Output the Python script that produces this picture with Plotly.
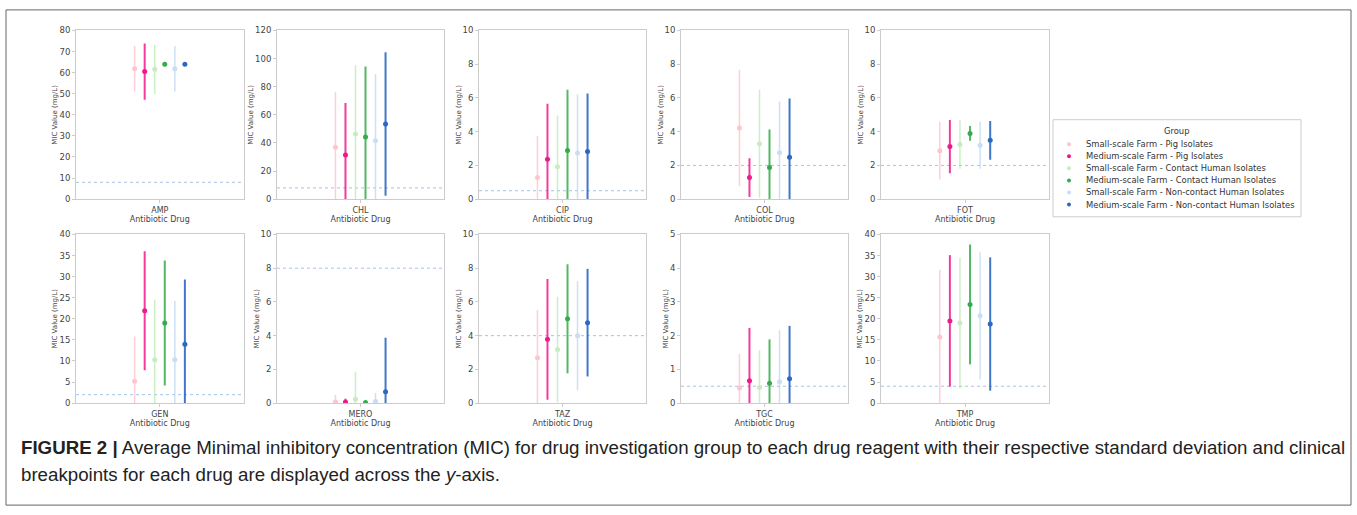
import plotly.graph_objects as go

W, H = 1357, 515

drugs = ["AMP", "CHL", "CIP", "COL", "FOT", "GEN", "MERO", "TAZ", "TGC", "TMP"]
breakpoints = [8, 8, 0.5, 2, 2, 2, 8, 4, 0.5, 4]
y_max = [80, 120, 10, 10, 10, 40, 10, 10, 5, 40]
y_step = [10, 20, 2, 2, 2, 5, 2, 2, 1, 5]

groups = [
    "Small-scale Farm - Pig Isolates",
    "Medium-scale Farm - Pig Isolates",
    "Small-scale Farm - Contact Human Isolates",
    "Medium-scale Farm - Contact Human Isolates",
    "Small-scale Farm - Non-contact Human Isolates",
    "Medium-scale Farm - Non-contact Human Isolates",
]

small_pig_mean = [61.9, 37.0, 1.28, 4.22, 2.87, 5.19, 0.06, 2.69, 0.45, 15.66]
small_pig_sd = [10.8, 39.5, 2.48, 3.45, 1.70, 10.6, 0.44, 2.83, 1.0, 15.96]
medium_pig_mean = [60.5, 31.4, 2.36, 1.28, 3.12, 21.9, 0.06, 3.78, 0.66, 19.5]
medium_pig_sd = [13.3, 37.0, 3.3, 1.15, 1.58, 14.1, 0.2, 3.58, 1.57, 15.6]
small_contact_mean = [61.6, 46.3, 1.92, 3.29, 3.24, 10.3, 0.23, 3.18, 0.46, 18.99]
small_contact_sd = [11.7, 49.0, 3.04, 3.2, 1.44, 14.3, 1.63, 3.13, 1.11, 15.5]
medium_contact_mean = [64.0, 44.2, 2.89, 1.88, 3.90, 19.0, 0.04, 5.0, 0.59, 23.4]
medium_contact_sd = [0.0, 50.2, 3.6, 2.25, 0.44, 14.85, 0.04, 3.23, 1.3, 14.2]
small_noncontact_mean = [61.9, 41.6, 2.73, 2.75, 3.20, 10.3, 0.1, 3.99, 0.63, 20.7]
small_noncontact_sd = [10.8, 47.5, 3.49, 3.04, 1.40, 14.0, 0.5, 3.24, 1.53, 15.1]
medium_noncontact_mean = [64.0, 53.5, 2.83, 2.48, 3.49, 13.95, 0.68, 4.77, 0.72, 18.76]
medium_noncontact_sd = [0.0, 51.0, 3.43, 3.49, 1.15, 15.35, 3.2, 3.19, 1.57, 15.8]

means = [small_pig_mean, medium_pig_mean, small_contact_mean,
         medium_contact_mean, small_noncontact_mean, medium_noncontact_mean]
sds = [small_pig_sd, medium_pig_sd, small_contact_sd,
       medium_contact_sd, small_noncontact_sd, medium_noncontact_sd]

marker_colors = ["#ffc4cc", "#f0198c", "#c6ecbf", "#36ab4c", "#c9ddf3", "#2a68c2"]
bar_colors = ["rgba(255,190,200,0.75)", "rgba(240,25,140,0.85)", "rgba(170,228,160,0.6)",
              "rgba(40,165,60,0.8)", "rgba(190,214,242,0.75)", "rgba(30,95,190,0.85)"]
bar_width = [1.5, 2, 1.5, 2, 1.5, 2]
offsets = [-0.15, -0.09, -0.03, 0.03, 0.09, 0.15]

lefts = [76, 277, 479, 681, 881]
rights = [243.5, 444, 646, 848, 1049]
rows_px = [(26, 198), (234, 406)]

fig = go.Figure()
font = "DejaVu Sans"


def px_x(v):
    return v / W


def px_y(v):
    return (H - v) / H


for d, drug in enumerate(drugs):
    r, c = divmod(d, 5)
    ax = "" if d == 0 else str(d + 1)
    for g in range(6):
        fig.add_trace(go.Scatter(
            x=[offsets[g]], y=[means[g][d]],
            mode="markers",
            name=groups[g],
            showlegend=False,
            marker=dict(color=marker_colors[g], size=5, symbol="circle"),
            error_y=dict(type="data", array=[sds[g][d]], symmetric=True,
                         color=bar_colors[g], thickness=bar_width[g], width=0),
            xaxis="x" + ax, yaxis="y" + ax,
        ))
    top, bot = rows_px[r]
    fig.layout["xaxis" + ax] = dict(
        domain=[px_x(lefts[c]), px_x(rights[c])], anchor="y" + ax,
        range=[-0.5, 0.5], tickvals=[0], ticktext=[drug],
        showline=True, mirror=True, linecolor="#cccccc", linewidth=1,
        showgrid=False, zeroline=False, ticks="outside", ticklen=3, tickcolor="#cccccc",
        tickfont=dict(family=font, size=8, color="#444"),
        title=dict(text="Antibiotic Drug", standoff=0,
                   font=dict(family=font, size=8, color="#444")),
        fixedrange=True,
    )
    fig.layout["yaxis" + ax] = dict(
        domain=[px_y(bot), px_y(top)], anchor="x" + ax,
        range=[0, y_max[d]], dtick=y_step[d], tick0=0,
        showline=True, mirror=True, linecolor="#cccccc", linewidth=1,
        showgrid=False, zeroline=False, ticks="outside", ticklen=3, tickcolor="#cccccc",
        tickfont=dict(family=font, size=8.5, color="#444"),
        title=dict(text="MIC Value (mg/L)", standoff=0,
                   font=dict(family=font, size=7, color="#444")),
        fixedrange=True,
    )
    fig.add_shape(type="line", xref="x" + ax + " domain", yref="y" + ax,
                  x0=0, x1=1, y0=breakpoints[d], y1=breakpoints[d],
                  line=dict(color="rgba(140,180,225,0.8)", width=1, dash="dot"),
                  layer="below")

# legend (drawn manually to match compact matplotlib spacing)
fig.add_shape(type="rect", xref="paper", yref="paper",
              x0=px_x(1053), x1=px_x(1301), y0=px_y(216), y1=px_y(117),
              line=dict(color="#cccccc", width=1), fillcolor="white")
fig.add_annotation(text="Group", xref="paper", yref="paper",
                   x=px_x(1177), y=px_y(129), xanchor="center", yanchor="middle",
                   showarrow=False, font=dict(family=font, size=8.4, color="#333"))
for g, name in enumerate(groups):
    yc = 142 + 12.3 * g
    fig.add_shape(type="circle", xref="paper", yref="paper",
                  xsizemode="pixel", ysizemode="pixel",
                  xanchor=px_x(1069), yanchor=px_y(yc),
                  x0=-2, x1=2, y0=-2, y1=2,
                  line=dict(width=0), fillcolor=marker_colors[g])
    fig.add_annotation(text=name, xref="paper", yref="paper",
                       x=px_x(1084), y=px_y(yc), xanchor="left", yanchor="middle",
                       showarrow=False, font=dict(family=font, size=8.4, color="#333"))

# outer frame
fig.add_shape(type="rect", xref="paper", yref="paper",
              x0=px_x(6), x1=px_x(1351), y0=px_y(510), y1=px_y(5),
              line=dict(color="#666", width=1))

caption1 = ("<b>FIGURE 2 |</b> Average Minimal inhibitory concentration (MIC) for drug investigation "
            "group to each drug reagent with their respective standard deviation and clinical")
caption2 = "breakpoints for each drug are displayed across the <i>y</i>-axis."
for txt, ypx in [(caption1, 451), (caption2, 479)]:
    fig.add_annotation(text=txt, xref="paper", yref="paper", x=px_x(19), y=px_y(ypx),
                       xanchor="left", yanchor="middle", showarrow=False,
                       font=dict(family="Liberation Sans", size=18.7, color="#222"))

fig.update_layout(
    width=W, height=H,
    margin=dict(l=0, r=0, t=0, b=0),
    paper_bgcolor="white", plot_bgcolor="white",
    showlegend=False,
)

fig.write_html("out.html", config={"displayModeBar": False},
               post_script="document.body.style.margin='0px';")
